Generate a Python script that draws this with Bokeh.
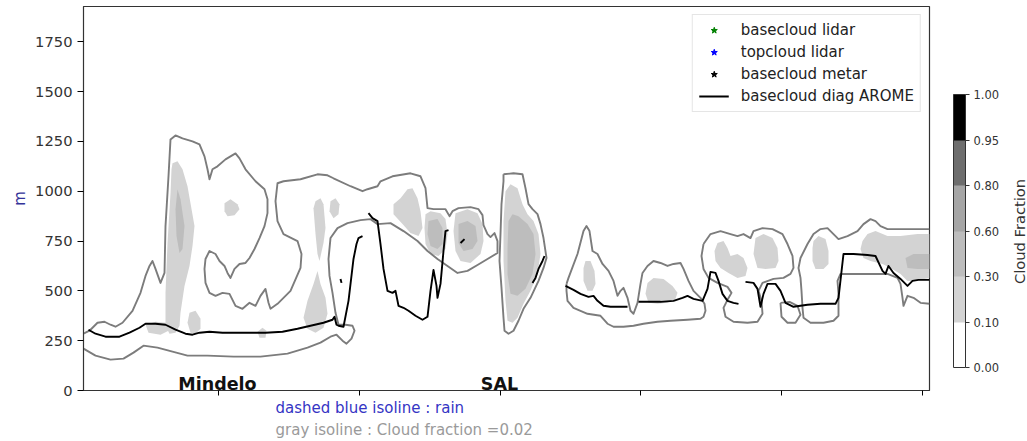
import math
from bokeh.plotting import figure
from bokeh.models import (Range1d, FixedTicker, ColorBar, LinearColorMapper, LinearAxis, Title)
from bokeh.embed import file_html
from bokeh.resources import INLINE
from bokeh.core.properties import value

FONT = "DejaVu Sans"
NAN = float("nan")

# ---------------- data (x: position along transect, y: height in m) ----------------
x_ticks = [135, 276, 417, 557, 698, 839]
y_ticks = [0, 250, 500, 750, 1000, 1250, 1500, 1750]
stations = ["Mindelo", "SAL"]
station_x = [134, 416]
station_y = [33, 33]

cbar_levels = ["0.00", "0.10", "0.30", "0.60", "0.80", "0.95", "1.00"]
cbar_colors = ["#ffffff", "#d3d3d3", "#bdbdbd", "#a6a6a6", "#6e6e6e", "#000000"]
cbar_title = "Cloud Fraction"

# observations (no valid value available on this transect)
lidar_base_x, lidar_base_y = [NAN], [NAN]
lidar_top_x, lidar_top_y = [NAN], [NAN]
metar_base_x, metar_base_y = [NAN], [NAN]

# cloud fraction = 0.02 isolines
iso_a = [(0,210),(12,175),(27,155),(40,160),(50,190),(60,225),(74,215),(89,195),(104,175),(124,175),
         (150,170),(177,170),(204,185),(224,215),(237,240),(247,270),(253,280),(259,250),(263,235),
         (268,260),(271,300),(269,325),(262,330),(255,330),(252,390),(249,490),(246,575),(245,660),
         (247,765),(254,815),(264,840),(277,855),(287,860),(294,835),(307,840),(320,800),(334,750),
         (344,700),(354,660),(364,625),(374,590),(384,600),(394,630),(404,660),(414,690),(414,750),
         (411,790),(407,770),(404,785),(400,830),(399,880),(395,910),(387,920),(375,915),(369,900),
         (366,875),(362,910),(350,910),(344,915),(342,1015),(337,1075),(327,1090),(309,1075),(297,1050),
         (294,1025),(284,1010),(279,1000),(267,1025),(250,1065),(244,1080),(234,1085),(217,1060),
         (200,1050),(194,1040),(192,950),(194,850),(200,785),(214,750),(218,685),(217,615),(207,500),
         (194,435),(187,410),(185,440),(182,510),(177,475),(172,425),(166,440),(159,410),(152,425),
         (146,485),(139,490),(132,475),(126,490),(122,540),(121,610),(122,660),(126,700),(132,685),
         (136,650),(141,625),(144,590),(147,565),(151,610),(156,635),(162,640),(166,665),(171,710),
         (176,765),(181,825),(184,890),(184,960),(181,1010),(172,1050),(162,1110),(156,1165),(152,1190),
         (142,1160),(134,1125),(129,1110),(126,1060),(124,1110),(121,1175),(116,1235),(109,1250),
         (99,1265),(92,1280),(87,1260),(85,1075),(82,825),(81,590),(77,540),(72,610),(69,650),(66,625),
         (62,575),(57,490),(49,400),(39,340),(32,320),(27,330),(21,345),(14,340),(6,300),(0,285)]
iso_sal = [(420,1085),(430,1090),(439,1085),(442,1015),(445,935),(449,910),(454,885),(457,835),(460,765),
           (463,665),(460,615),(455,550),(447,465),(440,410),(435,350),(430,300),(425,285),(421,300),
           (420,365),(418,515),(416,650),(417,785),(418,935),(420,1050),(420,1085)]
iso_r12 = [(483,535),(485,565),(494,685),(500,800),(503,825),(506,800),(509,700),(514,685),(519,635),
           (525,600),(530,550),(534,475),(537,500),(540,515),(544,465),(547,400),(550,385),(554,440),
           (557,535),(559,590),(564,625),(570,650),(577,640),(584,625),(590,635),(597,640),(600,610),
           (605,550),(610,500),(617,465),(621,435),(622,400),(620,370),(617,360),(604,355),(587,350),
           (574,345),(560,335),(550,325),(540,320),(530,320),(524,335),(517,375),(504,385),(490,415),
           (484,450),(483,500),(483,535)]
iso_r3 = [(620,735),(627,785),(637,800),(647,785),(654,775),(660,785),(667,765),(670,800),(679,815),
          (689,810),(699,785),(704,735),(709,675),(710,615),(707,585),(700,565),(690,560),(679,540),
          (675,500),(678,450),(679,385),(674,345),(664,340),(650,345),(642,370),(640,415),(644,455),
          (648,490),(644,520),(634,540),(625,565),(620,610),(618,675),(620,735)]
iso_r3b = [(697,440),(698,370),(704,340),(712,340),(717,380),(714,425),(706,445),(697,440)]
iso_r4 = [(846,810),(817,810),(804,810),(797,825),(792,850),(787,860),(780,835),(774,800),(764,775),
          (755,760),(750,785),(744,815),(737,810),(730,785),(724,735),(717,665),(715,615),(717,565),
          (718,500),(719,415),(720,365),(727,340),(740,340),(750,350),(755,375),(755,485),(754,550),
          (757,585),(770,585),(790,585),(804,585),(814,565),(817,535),(819,465),(820,425),(824,475),
          (830,465),(837,440),(846,435)]
isolines = [iso_a, iso_sal, iso_r12, iso_r3, iso_r3b, iso_r4]

# cloud fraction 0.10 - 0.30 areas
cf_light = [
    [(89,1140),(94,1150),(99,1110),(104,1025),(107,940),(111,825),(109,725),(106,625),(101,525),(97,390),
     (96,325),(92,290),(86,285),(82,325),(82,490),(84,740),(87,990),(88,1110)],
    [(106,390),(112,400),(117,360),(117,310),(112,285),(107,290),(104,340)],
    [(141,940),(147,960),(154,935),(156,910),(151,880),(144,875),(141,900)],
    [(62,330),(72,345),(82,340),(85,300),(77,280),(65,290)],
    [(179,315),(183,300),(182,265),(176,265),(174,295)],
    [(230,915),(232,950),(237,965),(240,935),(242,815),(240,740),(236,650),(234,685),(232,785)],
    [(234,600),(237,535),(242,465),(244,385),(240,315),(232,290),(224,310),(220,365),(224,450),(230,535)],
    [(247,950),(252,965),(256,935),(255,885),(250,865),(246,900)],
    [(310,935),(317,965),(324,1010),(329,1015),(334,965),(337,900),(339,815),(335,775),(327,790),
     (319,835),(310,885)],
    [(342,885),(347,900),(357,890),(362,860),(364,785),(362,710),(355,675),(347,685),(342,735),(341,815)],
    [(372,890),(384,910),(394,890),(399,835),(400,750),(397,685),(387,640),(377,650),(372,700),(370,800)],
    [(422,1000),(427,1035),(434,1015),(439,935),(444,885),(450,850),(455,785),(457,685),(454,585),
     (447,500),(440,435),(434,365),(429,340),(424,350),(422,450),(420,650),(420,850)],
    [(502,650),(507,650),(511,600),(512,535),(509,500),(504,500),(500,550),(500,615)],
    [(564,540),(570,565),(580,560),(589,525),(594,490),(592,460),(584,440),(574,435),(565,440),(562,485)],
    [(634,740),(640,750),(644,715),(647,675),(654,685),(660,665),(664,615),(662,575),(654,565),(645,590),
     (637,615),(632,650),(631,700)],
    [(672,765),(680,785),(689,765),(694,715),(695,650),(692,615),(682,610),(674,615),(670,685)],
    [(730,750),(735,775),(742,760),(745,700),(745,635),(740,610),(732,610),(729,650),(729,715)],
    [(779,750),(784,785),(792,800),(804,775),(817,775),(834,785),(846,785),(846,565),(830,550),(824,550),
     (817,585),(807,615),(799,635),(787,650),(780,665),(777,710)],
]
# cloud fraction 0.30 - 0.60 areas
cf_mid = [
    [(94,1010),(97,960),(101,825),(99,710),(96,690),(93,775),(92,910)],
    [(345,850),(354,860),(359,815),(359,735),(354,710),(347,725),(344,785)],
    [(375,835),(384,850),(392,825),(394,750),(389,710),(380,700),(375,740)],
    [(425,850),(429,885),(435,875),(444,835),(450,785),(452,685),(449,585),(442,510),(434,475),
     (427,485),(424,585),(424,715)],
    [(822,665),(830,685),(846,685),(846,610),(834,610),(824,615)],
]

# basecloud diagnosed by AROME (segments separated by missing values)
arome_base = [
    [(5,305),(12,285),(22,270),(36,270),(46,290),(56,315),(62,335),(72,335),(82,330),(92,305),(102,285),
     (109,280),(116,290),(126,295),(139,290),(152,290),(166,290),(182,290),(199,295),(214,310),(227,325),
     (240,340),(249,355),(251,370),(253,330),(255,325),(260,320),(265,450),(270,660),(273,735),(275,765),
     (279,775)],
    [(285,890),(289,865),(294,850),(297,735),(300,610),(304,500),(309,490),(312,500),(315,425),(320,415),
     (325,400),(332,375),(339,355),(344,370),(347,500),(350,605),(353,525),(354,465),(357,535),(360,700),
     (362,800),(365,805)],
    [(257,560),(258,540)],
    [(377,740),(381,760)],
    [(449,540),(452,565),(455,610),(459,650),(461,675)],
    [(482,525),(490,505),(497,485),(505,470),(510,475),(514,450),(520,425),(527,420),(537,420),(544,420)],
    [(555,445),(564,445),(577,445),(590,450),(599,465),(604,475),(610,460),(619,450),(624,510),(627,595),
     (632,590),(635,550),(639,485),(644,450),(650,440),(655,435)],
    [(662,545),(670,540),(674,510),(677,420),(680,485),(684,535),(692,535),(697,500),(702,440),(710,420),
     (724,430),(737,435),(752,435),(755,465),(760,685),(770,685),(784,680),(792,675),(799,600),(802,585),
     (805,625),(810,590),(817,560),(824,525),(829,550),(835,555),(846,555)],
]


def xs_of(shapes):
    return [[pt[0] for pt in s] for s in shapes]


def ys_of(shapes):
    return [[pt[1] for pt in s] for s in shapes]


# ---------------- figure ----------------
p = figure(frame_width=846, frame_height=384, x_range=Range1d(0, 846), y_range=Range1d(0, 1927),
           toolbar_location=None, output_backend="svg",
           min_border_left=83, min_border_right=97, min_border_top=6, min_border_bottom=48)
p.grid.visible = False
p.outline_line_color = "#333333"
p.outline_line_width = 1.2

p.patches(xs_of(cf_light), ys_of(cf_light), fill_color=cbar_colors[1], line_color=None)
p.patches(xs_of(cf_mid), ys_of(cf_mid), fill_color=cbar_colors[2], line_color=None)
p.multi_line(xs_of(isolines), ys_of(isolines), line_color="#7c7c7c", line_width=1.9, line_join="round")

p.scatter(lidar_base_x, lidar_base_y, marker="star", size=16, color="green", legend_label="basecloud lidar")
p.scatter(lidar_top_x, lidar_top_y, marker="star", size=16, color="blue", legend_label="topcloud lidar")
p.scatter(metar_base_x, metar_base_y, marker="star", size=16, color="black", legend_label="basecloud metar")
p.multi_line(xs_of(arome_base), ys_of(arome_base), line_color="black", line_width=1.9, line_join="round",
             legend_label="basecloud diag AROME")

p.text(x=station_x, y=station_y, text=stations, text_font=value(FONT), text_font_style="bold",
       text_font_size="17.5px", text_align="center", text_baseline="middle", text_color="#111111")

p.xaxis.ticker = FixedTicker(ticks=x_ticks)
p.xaxis.major_label_overrides = {t: "" for t in x_ticks}
p.xaxis.major_tick_out = 5
p.xaxis.major_tick_in = 0
p.xaxis.major_label_standoff = 0
p.xaxis.minor_tick_line_color = None
p.xaxis.axis_line_color = "#333333"

p.yaxis.ticker = FixedTicker(ticks=y_ticks)
p.yaxis.major_tick_out = 6
p.yaxis.major_tick_in = 0
p.yaxis.minor_tick_line_color = None
p.yaxis.major_label_standoff = 5
p.yaxis.major_label_text_font = FONT
p.yaxis.major_label_text_font_size = "14.7px"
p.yaxis.major_label_text_color = "#333333"
p.yaxis.axis_line_color = "#333333"
p.yaxis.axis_label = "m"
p.yaxis.axis_label_text_font = FONT
p.yaxis.axis_label_text_font_style = "normal"
p.yaxis.axis_label_text_font_size = "15px"
p.yaxis.axis_label_text_color = "#333399"
p.yaxis.axis_label_standoff = 3

lg = p.legend[0]
lg.location = "top_right"
lg.margin = 8
lg.padding = 6
lg.spacing = 4
lg.glyph_width = 30
lg.glyph_height = 16
lg.label_height = 16
lg.label_standoff = 12
lg.label_text_font = FONT
lg.label_text_font_size = "15px"
lg.label_text_color = "#222222"
lg.border_line_color = "#cccccc"
lg.background_fill_alpha = 0.8

# notes below the axis
p.add_layout(Title(text="dashed blue isoline : rain", align="left", offset=192, standoff=2,
                   text_font=FONT, text_font_size="15px", text_font_style="normal",
                   text_color="#3535c4"), "below")
p.add_layout(Title(text="gray isoline : Cloud fraction =0.02", align="left", offset=192, standoff=2,
                   text_font=FONT, text_font_size="15px", text_font_style="normal",
                   text_color="#9a9a9a"), "below")

# ---------------- colour bar ----------------
n = len(cbar_colors)
mapper = LinearColorMapper(palette=cbar_colors, low=0, high=n)
cbar = ColorBar(color_mapper=mapper, ticker=FixedTicker(ticks=list(range(n + 1))),
                major_label_overrides={i: lab for i, lab in enumerate(cbar_levels)},
                location=(24, 23), width=12, height=273, padding=0, margin=0,
                bar_line_color="#333333", bar_line_width=1,
                major_tick_line_color="#333333", major_tick_in=0, major_tick_out=4,
                minor_tick_line_color=None, label_standoff=4,
                major_label_text_font=FONT, major_label_text_font_size="11.5px",
                major_label_text_color="#333333")
p.add_layout(cbar, "right")

# colour-bar title: one rotated tick label on a bare axis (level of the lower end of the words)
title_level = 534
cf_axis = LinearAxis(ticker=FixedTicker(ticks=[title_level]),
                     major_label_overrides={title_level: cbar_title},
                     major_label_orientation=math.pi / 2,
                     axis_line_color=None, major_tick_line_color=None, minor_tick_line_color=None,
                     major_label_text_font=FONT, major_label_text_font_size="14.7px",
                     major_label_text_color="#333333", major_label_standoff=11)
p.add_layout(cf_axis, "right")

open("out.html", "w").write(file_html(p, INLINE))
